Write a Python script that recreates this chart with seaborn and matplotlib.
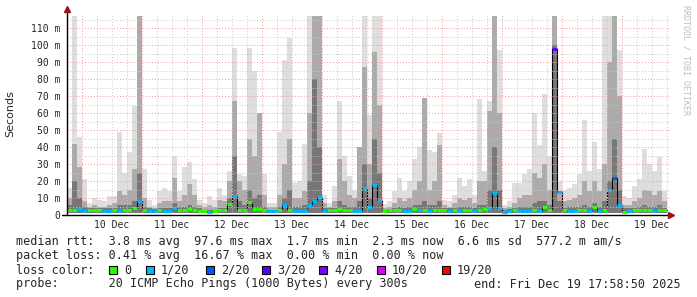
import numpy as np
import matplotlib
matplotlib.use("Agg")
import matplotlib.pyplot as plt
import seaborn as sns
from matplotlib.patches import Rectangle

# ---------------- data: 2-hour bins, 9 Dec 18:00 -> 19 Dec 18:00 ----------------
smoke_max = [
    16, 117, 46,                                           # 9 Dec 18-24
    21, 7, 10, 9, 8, 11, 11, 49, 25, 37, 64, 117,          # 10 Dec
    27, 9, 6, 14, 16, 14, 35, 14, 28, 31, 21, 9,           # 11 Dec
    7, 11, 9, 16, 12, 26, 98, 24, 23, 98, 85, 60,          # 12 Dec
    24, 7, 7, 49, 91, 104, 19, 20, 42, 117, 117, 117,      # 13 Dec
    12, 7, 17, 67, 35, 23, 15, 40, 117, 59, 117, 117,      # 14 Dec
    6.5, 8, 14, 22, 14, 20, 33, 40, 69, 38, 37, 48,        # 15 Dec
    9, 8, 12, 22, 17, 21, 12, 68, 26, 67, 117, 97,         # 16 Dec
    6, 8, 19, 19, 24, 27, 60, 41, 71, 35, 117, 20,         # 17 Dec
    15, 16, 18, 24, 56, 26, 43, 27, 117, 117, 117, 97,     # 18 Dec
    11, 10, 17, 21, 39, 30, 26, 34, 14,                    # 19 Dec 00-18
]
smoke_mid = [
    10, 42, 28,
    8, 5, 6, 5, 5, 6, 7, 14, 12, 15, 27, 117,
    10, 5, 4, 7, 8, 8, 22, 8, 12, 18, 12, 6,
    5, 6, 5, 9, 8, 20, 67, 20, 15, 45, 35, 60,
    12, 5, 5, 12, 30, 45, 10, 10, 14, 60, 117, 117,
    7, 5, 8, 33, 20, 12, 10, 40, 87, 30, 96, 65,
    4, 5, 7, 10, 8, 10, 15, 20, 69, 15, 20, 41,
    6, 5, 7, 10, 9, 10, 7, 20, 20, 61, 117, 60,
    4, 5, 7, 10, 12, 12, 25, 22, 30, 15, 117, 14,
    8, 9, 10, 12, 20, 14, 20, 14, 30, 90, 117, 70,
    6, 6, 8, 10, 15, 14, 12, 14, 8,
]
smoke_dark = [
    6, 20, 10,
    5, 4, 4, 4, 4, 4, 4, 6, 6, 6, 8, 25,
    5, 4, 3.5, 4, 4, 4, 7, 5, 5, 6, 5, 4,
    3, 3, 3, 4, 4, 10, 35, 8, 6, 15, 10, 12,
    5, 3, 3, 5, 10, 15, 5, 5, 6, 20, 80, 40,
    4, 4, 4, 8, 6, 5, 5, 8, 30, 10, 45, 25,
    3, 3.5, 4, 5, 4, 5, 6, 6, 8, 6, 6, 8,
    4, 4, 4, 5, 5, 5, 4, 6, 6, 15, 40, 15,
    3, 3.5, 4, 5, 5, 5, 7, 8, 8, 6, 100, 8,
    4, 5, 5, 5, 6, 5, 7, 5, 8, 20, 45, 15,
    4, 4, 4, 5, 6, 5, 5, 6, 4,
]
median_rtt = [
    3.2, 3.0, 3.5,
    2.4, 3.0, 2.8, 2.8, 2.3, 2.4, 3.0, 2.4, 3.0, 3.0, 4.3, 8.1,
    3.0, 2.3, 2.3, 3.0, 2.3, 2.4, 4.0, 2.8, 3.0, 3.3, 3.0, 2.4,
    2.2, 1.8, 2.3, 2.8, 2.8, 6.5, 11.0, 3.0, 3.0, 7.5, 3.5, 3.8,
    3.0, 2.3, 2.3, 3.0, 6.0, 3.0, 2.3, 2.3, 2.3, 6.0, 8.5, 10.5,
    2.4, 3.0, 3.0, 3.3, 3.0, 3.0, 2.4, 2.4, 16.0, 5.0, 17.6, 9.0,
    2.5, 2.8, 2.8, 3.2, 2.4, 2.4, 3.3, 3.0, 3.2, 2.6, 3.0, 3.0,
    2.8, 2.4, 2.8, 2.4, 3.0, 3.0, 2.4, 3.0, 3.3, 4.0, 12.7, 4.0,
    1.8, 2.4, 2.8, 2.4, 2.6, 2.4, 3.0, 2.4, 4.5, 3.0, 97.6, 13.7,
    2.8, 2.4, 2.4, 2.8, 2.8, 2.4, 5.0, 2.6, 2.8, 14.7, 21.5, 6.0,
    1.8, 2.2, 2.8, 2.8, 3.0, 3.0, 2.4, 3.0, 3.0,
]
loss_count = [
    0, 0, 1,
    1, 0, 0, 0, 1, 1, 0, 1, 0, 0, 0, 1,
    0, 1, 1, 0, 1, 1, 1, 0, 0, 0, 0, 0,
    0, 1, 0, 0, 0, 0, 1, 0, 0, 0, 0, 0,
    0, 1, 1, 0, 1, 0, 1, 1, 1, 1, 1, 1,
    1, 0, 0, 0, 0, 0, 1, 1, 1, 1, 1, 1,
    0, 0, 0, 0, 1, 1, 0, 1, 0, 1, 0, 0,
    0, 1, 0, 1, 0, 0, 1, 0, 0, 1, 1, 1,
    1, 1, 0, 1, 1, 1, 0, 1, 0, 0, 3, 1,
    0, 1, 1, 0, 0, 1, 0, 1, 0, 1, 2, 1,
    0, 1, 0, 0, 0, 0, 1, 0, 0,
]
smoke_floor = 1.3
bin_hours = 2.0

day_labels = ["10 Dec", "11 Dec", "12 Dec", "13 Dec", "14 Dec",
              "15 Dec", "16 Dec", "17 Dec", "18 Dec", "19 Dec"]
ytick_values = [0, 10, 20, 30, 40, 50, 60, 70, 80, 90, 100, 110]
ytick_labels = ["0", "10 m", "20 m", "30 m", "40 m", "50 m", "60 m",
                "70 m", "80 m", "90 m", "100 m", "110 m"]

legend_labels = ["0", "1/20", "2/20", "3/20", "4/20", "10/20", "19/20"]
legend_thresholds = [0, 1, 2, 3, 4, 10, 19]
legend_colors = ["#26ff00", "#00b8ff", "#0059ff", "#5e00ff", "#7e00ff", "#dd00ff", "#ff0000"]

line_rtt = "median rtt:  3.8 ms avg  97.6 ms max  1.7 ms min  2.3 ms now  6.6 ms sd  577.2 m am/s"
line_loss = "packet loss: 0.41 % avg  16.67 % max  0.00 % min  0.00 % now"
line_probe = "probe:       20 ICMP Echo Pings (1000 Bytes) every 300s"
line_end = "end: Fri Dec 19 17:58:50 2025"

# ---------------- figure ----------------
sns.set_style("white")
plt.rcParams['font.family'] = ['DejaVu Sans Mono', 'DejaVu Sans']

W, H = 697, 297
fig = plt.figure(figsize=(W / 100, H / 100), dpi=100)
fig.patch.set_facecolor("white")

X0, Y0 = 66.5, 215.0
px_per_hour = 2.5
px_per_ms = 1.7
xmax_h = 241.5
ymax = 118.0
ax = fig.add_axes([X0 / W, (H - Y0) / H, xmax_h * px_per_hour / W, ymax * px_per_ms / H])
ax.set_facecolor("white")
ax.set_xlim(0, xmax_h)
ax.set_ylim(0, ymax)

n = len(median_rtt)
t0 = np.arange(n) * bin_hours
edges = np.append(t0, t0[-1] + bin_hours)


def ext(v):
    v = np.asarray(v, dtype=float)
    return np.append(v, v[-1])


for vals, col in [(smoke_max, "#dedede"), (smoke_mid, "#ababab"), (smoke_dark, "#777777")]:
    ax.fill_between(edges, smoke_floor, ext(vals), step="post", color=col, lw=0, zorder=2)

# median line (black connector) + loss coloured segments
sns.lineplot(x=edges, y=ext(median_rtt), drawstyle="steps-post", color="black",
             lw=0.8, ax=ax, sort=False, zorder=4, legend=False)


def loss_color(c):
    col = legend_colors[0]
    for th, cc in zip(legend_thresholds, legend_colors):
        if c >= th:
            col = cc
    return col


seg_cols = [loss_color(c) for c in loss_count]
ax.hlines(median_rtt, t0, t0 + bin_hours, colors=seg_cols, lw=2.2, zorder=5)

# grid (on top, as rrdtool does)
minor_kw = dict(color="#c8c8c8", lw=0.7, ls=(0, (1, 2)), zorder=6)
major_kw = dict(color="#f09a9a", lw=0.7, ls=(0, (1, 2)), zorder=6)
for h in np.arange(6, xmax_h, 6):
    ax.axvline(h, **(major_kw if (h - 6) % 24 == 0 else minor_kw))
for v in np.arange(5, ymax, 5):
    ax.axhline(v, **(major_kw if v % 10 == 0 else minor_kw))

# ticks
noon = [18 + 24 * k for k in range(len(day_labels))]
ax.set_xticks(noon)
ax.set_xticklabels(day_labels, fontsize=7)
ax.set_yticks(ytick_values)
ax.set_yticklabels(ytick_labels, fontsize=7)
ax.tick_params(axis="x", length=0, pad=3.5)
ax.tick_params(axis="y", length=0, pad=4.5)
for s in ax.spines.values():
    s.set_visible(False)


def fx(p):
    return p / W


def fy(p):
    return 1 - p / H


# axis lines and arrows
fig.add_artist(plt.Line2D([fx(62), fx(669)], [fy(215), fy(215)], color="black", lw=1.0))
fig.add_artist(plt.Line2D([fx(66.5), fx(66.5)], [fy(215), fy(10)], color="black", lw=1.0))
fig.add_artist(plt.Line2D([fx(671)], [fy(215)], marker=">", color="#a01010", ms=4.5, lw=0))
fig.add_artist(plt.Line2D([fx(66.5)], [fy(9)], marker="^", color="#a01010", ms=4.5, lw=0))

# labels
fig.text(fx(10), fy(114), "Seconds", rotation=90, ha="center", va="center",
         fontsize=8, family="DejaVu Sans")
fig.text(fx(686), fy(60), "RRDTOOL / TOBI OETIKER", rotation=270, ha="center",
         va="center", fontsize=6, color="#bdbdbd")

fs = 8.45
fig.text(fx(16), fy(241), line_rtt, ha="left", va="center", fontsize=fs)
fig.text(fx(16), fy(255.5), line_loss, ha="left", va="center", fontsize=fs)
fig.text(fx(16), fy(270), "loss color:", ha="left", va="center", fontsize=fs)
fig.text(fx(16), fy(284), line_probe, ha="left", va="center", fontsize=fs)
fig.text(fx(681), fy(284), line_end, ha="right", va="center", fontsize=fs)

sq_x = [109, 146, 206, 262, 319, 377, 442]
for xx, lab, col in zip(sq_x, legend_labels, legend_colors):
    fig.add_artist(Rectangle((fx(xx), fy(274)), 8 / W, 8 / H, facecolor=col,
                             edgecolor="black", lw=0.8, transform=fig.transFigure))
    fig.text(fx(xx + 15), fy(270), lab, ha="left", va="center", fontsize=fs)

fig.savefig("out.png", dpi=100, facecolor="white")
